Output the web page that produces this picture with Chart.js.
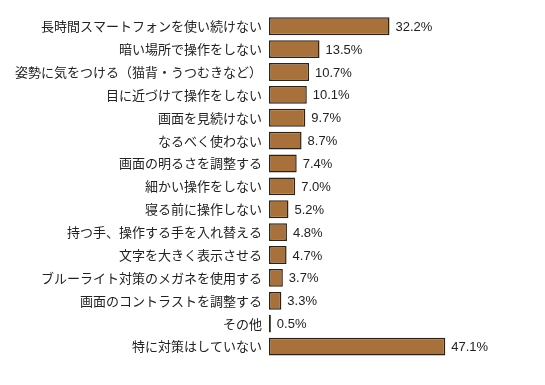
<!DOCTYPE html>
<html>
<head>
<meta charset="utf-8">
<script src="https://cdn.jsdelivr.net/npm/chart.js@4"></script>
<style>
    html, body { margin: 0; padding: 0; background: #fff; }
    #wrap { width: 545px; height: 385px; }
</style>
</head>
<body>
<div id="wrap"><canvas id="chart-taisaku"></canvas></div>
<script>
const labels = [
    '長時間スマートフォンを使い続けない',
    '暗い場所で操作をしない',
    '姿勢に気をつける（猫背・うつむきなど）',
    '目に近づけて操作をしない',
    '画面を見続けない',
    'なるべく使わない',
    '画面の明るさを調整する',
    '細かい操作をしない',
    '寝る前に操作しない',
    '持つ手、操作する手を入れ替える',
    '文字を大きく表示させる',
    'ブルーライト対策のメガネを使用する',
    '画面のコントラストを調整する',
    'その他',
    '特に対策はしていない'
];
const values = [32.2, 13.5, 10.7, 10.1, 9.7, 8.7, 7.4, 7.0, 5.2, 4.8, 4.7, 3.7, 3.3, 0.5, 47.1];

// value labels at the end of each bar
const valueLabels = {
    id: 'valueLabels',
    afterDatasetsDraw(chart) {
        const c = chart.ctx;
        const meta = chart.getDatasetMeta(0);
        c.save();
        c.font = '13px "Liberation Sans Narrow", "Liberation Sans", sans-serif';
        c.fillStyle = '#222';
        c.textBaseline = 'middle';
        meta.data.forEach((bar, i) => {
            c.fillText(values[i].toFixed(1) + '%', bar.x + 6, bar.y + 1);
        });
        c.restore();
    }
};

const ctx = document.getElementById('chart-taisaku').getContext('2d');
const myChart = new Chart(ctx, {
    type: 'bar',
    data: {
        labels: labels,
        datasets: [
            {
                data: values,
                backgroundColor: '#a8713b',
                borderColor: '#2e2218',
                borderWidth: 1.5,
                borderSkipped: false,
                barPercentage: 0.78,
                categoryPercentage: 1
            }
        ]
    },
    options: {
        indexAxis: 'y',
        responsive: true,
        maintainAspectRatio: false,
        animation: false,
        layout: {
            padding: { top: 12, bottom: 27, right: 14 }
        },
        plugins: {
            legend: { display: false },
            tooltip: { enabled: false }
        },
        scales: {
            x: {
                display: false,
                min: 0,
                max: 70
            },
            y: {
                afterFit: s => { s.width = 269; },
                grid: { display: false, drawTicks: false },
                border: { display: false },
                ticks: {
                    padding: 7,
                    color: '#222',
                    font: { size: 13, family: '"Noto Sans CJK JP", sans-serif' }
                }
            }
        }
    },
    plugins: [valueLabels]
});
</script>
</body>
</html>
